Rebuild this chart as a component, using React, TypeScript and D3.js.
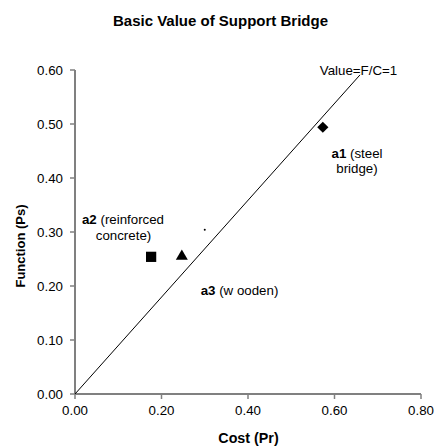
import React from "react";
import * as d3 from "d3";

const xTicks = [0, 0.2, 0.4, 0.6, 0.8];
const yTicks = [0, 0.1, 0.2, 0.3, 0.4, 0.5, 0.6];

const alternatives = ["a1", "a2", "a3"];
const costValues = [0.573, 0.176, 0.247];
const functionValues = [0.494, 0.254, 0.255];
const markerShapes = ["diamond", "square", "triangle"];

const valueLineX = [0, 0.659];
const valueLineY = [0, 0.591];

const strayPointX = [0.3];
const strayPointY = [0.304];

const W = 436;
const H = 448;
const FONT = "'Liberation Sans', Arial, sans-serif";

export default function App() {
  const x = d3.scaleLinear().domain([0, 0.8]).range([75, 421]);
  const y = d3.scaleLinear().domain([0, 0.6]).range([394, 70]);
  const fmt = d3.format(".2f");
  const line = d3
    .line<number>()
    .x((_, i) => x(valueLineX[i]))
    .y((d) => y(d));

  const symbolPath = (shape: string) => {
    if (shape === "diamond") return d3.symbol(d3.symbolDiamond2, 80)();
    if (shape === "square") return d3.symbol(d3.symbolSquare, 105)();
    return d3.symbol(d3.symbolTriangle, 62)();
  };

  const ann = 13.3;

  return (
    <svg
      width={W}
      height={H}
      style={{ position: "absolute", left: 0, top: 0, fontFamily: FONT }}
    >
      <rect width={W} height={H} fill="#fff" />
      <text x={220.5} y={26} textAnchor="middle" fontSize={15} fontWeight="bold">
        Basic Value of Support Bridge
      </text>

      {/* axes */}
      <line x1={75} x2={75} y1={70} y2={394} stroke="#808080" strokeWidth={2} />
      <line x1={75} x2={421} y1={394} y2={394} stroke="#808080" strokeWidth={2} />
      {yTicks.map((t) => (
        <g key={"y" + t}>
          <line x1={70} x2={75} y1={y(t)} y2={y(t)} stroke="#808080" strokeWidth={1.5} />
          <text x={63} y={y(t) + 4.7} textAnchor="end" fontSize={13.3}>
            {fmt(t)}
          </text>
        </g>
      ))}
      {xTicks.map((t) => (
        <g key={"x" + t}>
          <line x1={x(t)} x2={x(t)} y1={394} y2={399} stroke="#808080" strokeWidth={1.5} />
          <text x={x(t)} y={415} textAnchor="middle" fontSize={13.3}>
            {fmt(t)}
          </text>
        </g>
      ))}
      <text x={248.5} y={443} textAnchor="middle" fontSize={14.3} fontWeight="bold">
        Cost (Pr)
      </text>
      <text
        transform={`translate(25,${246}) rotate(-90)`}
        textAnchor="middle"
        fontSize={13}
        fontWeight="bold"
      >
        Function (Ps)
      </text>

      {/* value line */}
      <path d={line(valueLineY) || ""} fill="none" stroke="#000" strokeWidth={1} />
      <text x={358.5} y={75} textAnchor="middle" fontSize={ann}>
        Value=F/C=1
      </text>
      {strayPointX.map((v, i) => (
        <circle key={"s" + i} cx={x(v)} cy={y(strayPointY[i])} r={1} fill="#000" />
      ))}

      {/* markers */}
      {alternatives.map((a, i) => (
        <path
          key={a}
          d={symbolPath(markerShapes[i]) || ""}
          transform={`translate(${x(costValues[i])},${y(functionValues[i])})`}
          fill="#000"
        />
      ))}

      {/* labels */}
      <text x={357} y={158} textAnchor="middle" fontSize={ann}>
        <tspan fontWeight="bold">a1</tspan> (steel
      </text>
      <text x={357} y={173} textAnchor="middle" fontSize={ann}>
        bridge)
      </text>
      <text x={123} y={224} textAnchor="middle" fontSize={ann}>
        <tspan fontWeight="bold">a2</tspan> (reinforced
      </text>
      <text x={123.5} y={240} textAnchor="middle" fontSize={ann}>
        concrete)
      </text>
      <text x={239.5} y={295} textAnchor="middle" fontSize={ann}>
        <tspan fontWeight="bold">a3</tspan> (w ooden)
      </text>
    </svg>
  );
}
